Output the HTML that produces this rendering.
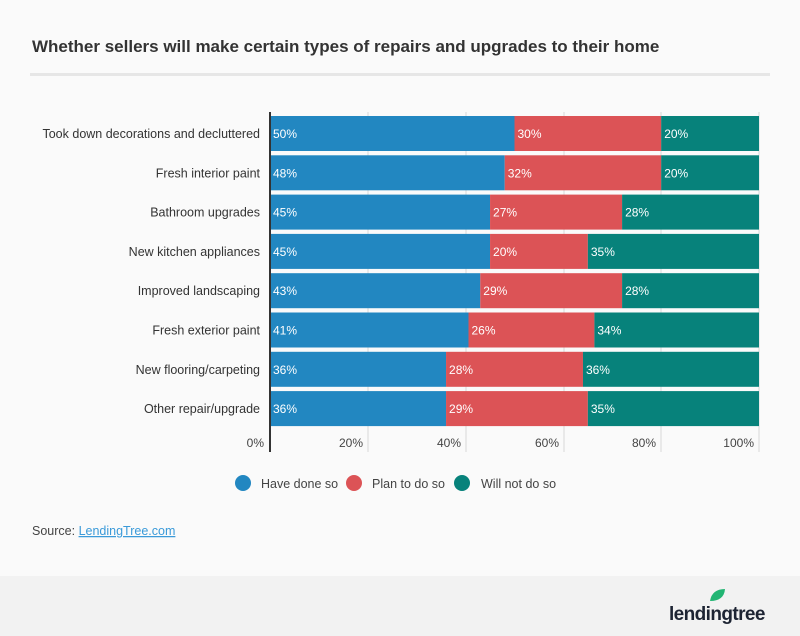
<!DOCTYPE html>
<html><head><meta charset="utf-8"><style>
body{margin:0;width:800px;height:636px;background:#fafafa;font-family:"Liberation Sans",sans-serif;position:relative;overflow:hidden}
.t{position:absolute;left:32px;top:37px;font-size:17px;font-weight:bold;color:#333}
.hr{position:absolute;left:30px;top:73px;width:740px;height:3px;background:#e6e6e6}
.foot{position:absolute;left:0;top:576px;width:800px;height:60px;background:#f2f2f2}
</style></head><body>
<div class="t">Whether sellers will make certain types of repairs and upgrades to their home</div>
<div class="hr"></div>
<svg width="800" height="636" style="position:absolute;left:0;top:0" font-family="Liberation Sans, sans-serif">
<g stroke="#d8d8d8" stroke-width="1">
<line x1="368" y1="112" x2="368" y2="452"/><line x1="466" y1="112" x2="466" y2="452"/><line x1="564" y1="112" x2="564" y2="452"/><line x1="661" y1="112" x2="661" y2="452"/><line x1="759" y1="112" x2="759" y2="452"/>
</g>
<g font-size="12" fill="#fff" id="bars"></g>
<line x1="270" y1="112" x2="270" y2="452" stroke="#333" stroke-width="2"/>
<g font-size="12" fill="#444" text-anchor="end">
<text x="264" y="447">0%</text><text x="363" y="447">20%</text><text x="461" y="447">40%</text><text x="559" y="447">60%</text><text x="656" y="447">80%</text><text x="754" y="447">100%</text>
</g>
<g font-size="12.5" fill="#333" text-anchor="end" id="labs"></g>
<g font-size="12.5" fill="#444">
<circle cx="243" cy="483" r="8" fill="#2287c1"/><text x="261" y="488">Have done so</text>
<circle cx="354" cy="483" r="8" fill="#dc5356"/><text x="372" y="488">Plan to do so</text>
<circle cx="462" cy="483" r="8" fill="#07827b"/><text x="481" y="488">Will not do so</text>
</g>
<text x="32" y="535" font-size="12.5" fill="#444">Source: <tspan fill="#3a9ad9" text-decoration="underline">LendingTree.com</tspan></text>
</svg>
<div class="foot"></div>
<svg width="140" height="50" style="position:absolute;left:660px;top:585px">
<path d="M50 16 Q52 4 65 4 Q64 16 50 16Z" fill="#22b573"/>
<text x="9" y="35" font-size="19" font-weight="bold" fill="#1d2433" font-family="Liberation Sans, sans-serif" letter-spacing="-0.6">lendingtree</text>
</svg>
<script>
var d=[["Took down decorations and decluttered",50,30,20],["Fresh interior paint",48,32,20],["Bathroom upgrades",45,27,28],["New kitchen appliances",45,20,35],["Improved landscaping",43,29,28],["Fresh exterior paint",41,26,34],["New flooring/carpeting",36,28,36],["Other repair/upgrade",36,29,35]];
var c=["#2287c1","#dc5356","#07827b"],s="",l="";
var W=489;
d.forEach(function(r,i){var y=116+i*39.3,x=270,tot=r[1]+r[2]+r[3];
for(var k=0;k<3;k++){var w=r[k+1]/tot*W;s+='<rect x="'+x+'" y="'+y+'" width="'+w+'" height="35" fill="'+c[k]+'"/><text x="'+(x+3)+'" y="'+(y+22)+'">'+r[k+1]+'%</text>';x+=w;}
l+='<text x="260" y="'+(y+22)+'">'+r[0]+'</text>';});
document.getElementById("bars").innerHTML=s;document.getElementById("labs").innerHTML=l;
</script>
</body></html>
